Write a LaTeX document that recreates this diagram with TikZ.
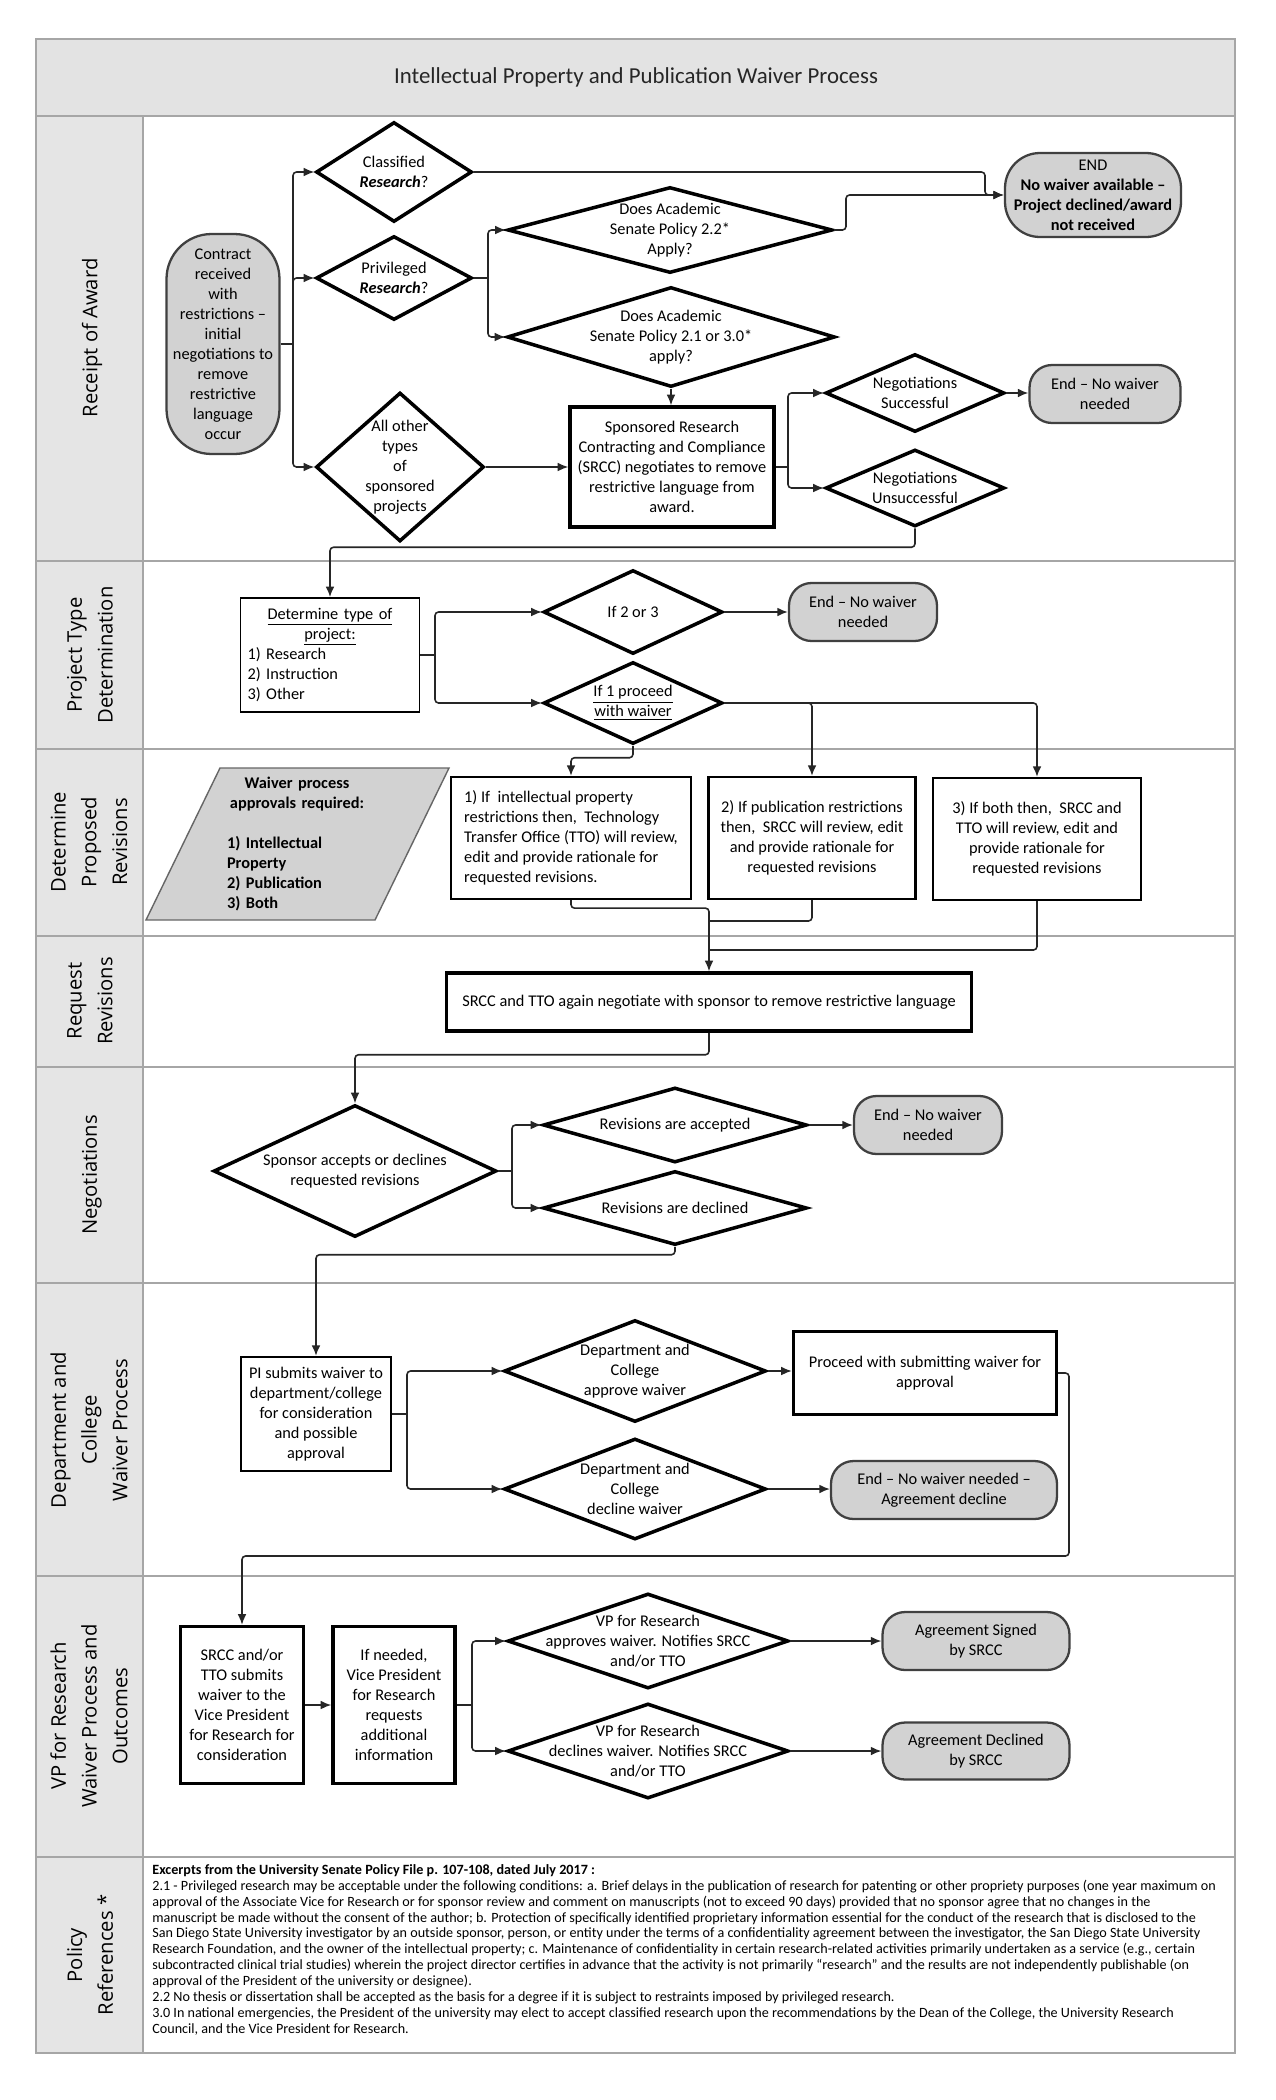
\documentclass[tikz,border=0pt]{standalone}
\usepackage{fontspec}
\setmainfont{Carlito}
\newfontfamily\hdrfont{Open Sans}
\usetikzlibrary{shapes.geometric,arrows.meta,calc}
\begin{document}
\begin{tikzpicture}[x=0.02cm,y=-0.02cm,
  every node/.style={font=\fontsize{9.3}{11.4}\selectfont},
  txt/.style={align=center, inner sep=0pt},
  dia/.style={shape=diamond, draw=black, line width=2pt, inner sep=0pt},
  term/.style={draw=black!75, line width=1.3pt, fill=gray!35, align=center, inner sep=1pt, rounded corners=0.45cm},
  pbox/.style={draw=black, line width=1.6pt, align=center, inner sep=2pt},
  conn/.style={draw=black!85, line width=0.9pt, rounded corners=2pt, -{Latex[length=6pt,width=5pt]}},
  link/.style={draw=black!85, line width=0.9pt, rounded corners=2pt},
  lanehdr/.style={rotate=90, align=center, font=\hdrfont\fontsize{11.5}{17.5}\selectfont},
]
\useasboundingbox (0,0) rectangle (1275,2100);
\fill[white] (0,0) rectangle (1275,2100);
% frame
\fill[gray!22] (36,39) rectangle (1235,116);
\fill[gray!20] (36,116) rectangle (143,2053);
\foreach \yy in {116,561,749,936,1067,1283,1576,1857}
  \draw[gray!70, line width=0.8pt] (36,\yy) -- (1235,\yy);
\draw[gray!70, line width=0.8pt] (143,116) -- (143,2053);
\draw[gray!70, line width=0.8pt] (36,39) rectangle (1235,2053);
\node[font=\fontsize{13}{15}\selectfont, text=black!85] (title) at (636,77) {Intellectual Property and Publication Waiver Process};
% lane headers
\node[lanehdr] (h1) at (92,338) {Receipt of Award};
\node[lanehdr] (h2) at (90,655) {Project Type\\Determination};
\node[lanehdr] (h3) at (89,842) {Determine\\Proposed\\Revisions};
\node[lanehdr] (h4) at (90,1001) {Request\\Revisions};
\node[lanehdr] (h5) at (92,1175) {Negotiations};
\node[lanehdr] (h6) at (89,1430) {Department and\\College\\Waiver Process};
\node[lanehdr] (h7) at (89,1716) {VP for Research\\Waiver Process and\\Outcomes};
\node[lanehdr] (h8) at (90,1955) {Policy\\References *};

% ---------- Lane 1
\node[term, minimum width=2.26cm, minimum height=4.4cm, rounded corners=0.9cm] (start) at (223,344) {Contract\\received\\with\\restrictions --\\initial\\negotiations to\\remove\\restrictive\\language\\occur};
\node[dia, minimum width=3.12cm, minimum height=2cm] (cls) at (394,172) {};
\node[txt] (clsT) at (394,172) {Classified\\\textbf{\textit{Research}}?};
\node[dia, minimum width=3.12cm, minimum height=1.68cm] (priv) at (394,278) {};
\node[txt] (privT) at (394,278) {Privileged\\\textbf{\textit{Research}}?};
\node[dia, minimum width=3.36cm, minimum height=2.98cm] (other) at (400,467) {};
\node[txt] (otherT) at (400,467) {All other\\types\\of\\sponsored\\projects};
\node[dia, minimum width=6.5cm, minimum height=1.72cm] (p22) at (670,230) {};
\node[txt] (p22T) at (670,230) {Does Academic\\Senate Policy 2.2*\\Apply?};
\node[dia, minimum width=6.56cm, minimum height=2cm] (p21) at (671,337) {};
\node[txt] (p21T) at (671,337) {Does Academic\\Senate Policy 2.1 or 3.0*\\apply?};
\node[pbox, line width=2pt, minimum width=4.08cm, minimum height=2.4cm] (srcc) at (672,467) {Sponsored Research\\Contracting and Compliance\\(SRCC) negotiates to remove\\restrictive language from\\award.};
\node[dia, minimum width=3.58cm, minimum height=1.56cm] (negS) at (915,393) {};
\node[txt] (negST) at (915,393) {Negotiations\\Successful};
\node[dia, minimum width=3.58cm, minimum height=1.54cm] (negU) at (915,488) {};
\node[txt] (negUT) at (915,488) {Negotiations\\Unsuccessful};
\node[term, minimum width=3.02cm, minimum height=1.16cm] (endS) at (1105,394) {End -- No waiver\\needed};
\node[term, minimum width=3.52cm, minimum height=1.68cm, rounded corners=0.7cm] (endTop) at (1093,195) {END\\\textbf{No waiver available --}\\\textbf{Project declined/award}\\\textbf{not received}};

\coordinate (b1) at (293,344);
\draw[link] (start.east) -- (b1);
\draw[conn] (b1) |- (cls.west);
\draw[conn] (b1) |- (priv.west);
\draw[conn] (b1) |- (other.west);
\coordinate (b2) at (488,278);
\draw[link] (priv.east) -- (b2);
\draw[conn] (b2) |- (p22.west);
\draw[conn] (b2) |- (p21.west);
\draw[conn] (p21.south) -- (p21.south |- srcc.north);
\draw[conn] (other.east) -- (srcc.west);
\coordinate (b3) at (788,467);
\draw[link] (srcc.east) -- (b3);
\draw[conn] (b3) |- (negS.west);
\draw[conn] (b3) |- (negU.west);
\draw[conn] (negS.east) -- (negS.east -| endS.west);
\draw[conn] (cls.east) -- (985,172) |- (endTop.west);
\draw[conn] (p22.east) -- (846,230) |- (endTop.west);

% ---------- Lane 2
\node[draw=black, line width=1pt, minimum width=3.58cm, minimum height=2.28cm, text width=3.3cm, inner sep=0pt] (det) at (330,655) {\centering\underline{Determine type of}\\\underline{project:}\par\raggedright 1) Research\\2) Instruction\\3) Other\par};
\draw[conn] (negU.south) -- ++(0,19) -| (det.north);
\node[dia, minimum width=3.58cm, minimum height=1.68cm] (if23) at (633,612) {};
\node[txt] (if23T) at (633,612) {If 2 or 3};
\node[dia, minimum width=3.58cm, minimum height=1.64cm] (if1) at (633,703) {};
\node[txt] (if1T) at (633,703) {\underline{If 1 proceed}\\\underline{with waiver}};
\node[term, minimum width=2.96cm, minimum height=1.16cm] (end2) at (863,612) {End -- No waiver\\needed};
\coordinate (b4) at (435,655);
\draw[link] (det.east) -- (b4);
\draw[conn] (b4) |- (if23.west);
\draw[conn] (b4) |- (if1.west);
\draw[conn] (if23.east) -- (end2.west);

% ---------- Lane 3
\filldraw[fill=gray!35, draw=black!60, line width=0.8pt] (220,768) -- (449,768) -- (375,920) -- (146,920) -- cycle;
\node[inner sep=0pt, text width=2.8cm, font=\bfseries\fontsize{9.3}{11.4}\selectfont] (paraT) at (297,844) {\centering Waiver process\\approvals required:\par\vspace{11.4pt}\raggedright 1) Intellectual\\Property\\2) Publication\\3) Both\par};
\node[pbox, line width=1.3pt, minimum width=4.8cm, minimum height=2.44cm, align=left] (bx1) at (571,838) {1) If~ intellectual property\\restrictions then,~ Technology\\Transfer Office (TTO) will review,\\edit and provide rationale for\\requested revisions.};
\node[pbox, line width=1.3pt, minimum width=4.14cm, minimum height=2.44cm] (bx2) at (812,838) {2) If publication restrictions\\then,~ SRCC will review, edit\\and provide rationale for\\requested revisions};
\node[pbox, line width=1.3pt, minimum width=4.16cm, minimum height=2.44cm] (bx3) at (1037,839) {3) If both then,~ SRCC and\\TTO will review, edit and\\provide rationale for\\requested revisions};
\draw[conn] (if1.east) -| (bx2.north);
\draw[conn] (if1.east) -| (bx3.north);
\draw[conn] (if1.south) -- ++(0,12) -| (bx1.north);

% ---------- Lane 4
\node[pbox, line width=2pt, minimum width=10.5cm, minimum height=1.16cm] (req) at (709,1002) {SRCC and TTO again negotiate with sponsor to remove restrictive language};
\coordinate (j2) at (709,921);
\coordinate (j3) at (709,950);
\draw[conn] (bx1.south) -- ++(0,8) -| (req.north);
\draw[link] (bx2.south) |- (j2);
\draw[link] (bx3.south) |- (j3);

% ---------- Lane 5
\node[dia, minimum width=5.66cm, minimum height=2.64cm] (spons) at (355,1171) {};
\node[txt] (sponsT) at (355,1171) {Sponsor accepts or declines\\requested revisions};
\node[dia, minimum width=5.28cm, minimum height=1.5cm] (racc) at (675,1125) {};
\node[txt] (raccT) at (675,1125) {Revisions are accepted};
\node[dia, minimum width=5.28cm, minimum height=1.48cm] (rdec) at (675,1208) {};
\node[txt] (rdecT) at (675,1208) {Revisions are declined};
\node[term, minimum width=2.96cm, minimum height=1.16cm] (end5) at (928,1125) {End -- No waiver\\needed};
\draw[conn] (req.south) -- ++(0,22) -| (spons.north);
\coordinate (b5) at (512,1171);
\draw[link] (spons.east) -- (b5);
\draw[conn] (b5) |- (racc.west);
\draw[conn] (b5) |- (rdec.west);
\draw[conn] (racc.east) -- (end5.west);

% ---------- Lane 6
\node[pbox, line width=1.3pt, minimum width=3cm, minimum height=2.28cm] (pi) at (316,1414) {PI submits waiver to\\department/college\\for consideration\\and possible\\approval};
\draw[conn] (rdec.south) -- ++(0,8) -| (pi.north);
\node[dia, minimum width=5.24cm, minimum height=2.04cm] (app) at (635,1371) {};
\node[txt] (appT) at (635,1371) {Department and\\College\\approve waiver};
\node[dia, minimum width=5.24cm, minimum height=2.02cm] (dec) at (635,1489) {};
\node[txt] (decT) at (635,1489) {Department and\\College\\decline waiver};
\node[pbox, line width=2pt, minimum width=5.26cm, minimum height=1.66cm] (proc) at (925,1373) {Proceed with submitting waiver for\\approval};
\node[term, minimum width=4.52cm, minimum height=1.16cm] (end6) at (944,1490) {End -- No waiver needed --\\Agreement decline};
\coordinate (b6) at (407,1414);
\draw[link] (pi.east) -- (b6);
\draw[conn] (b6) |- (app.west);
\draw[conn] (b6) |- (dec.west);
\draw[conn] (app.east) -- (app.east -| proc.west);
\draw[conn] (dec.east) -- (dec.east -| end6.west);

% ---------- Lane 7
\node[pbox, line width=2pt, minimum width=2.46cm, minimum height=3.14cm] (sub) at (242,1705) {SRCC and/or\\TTO submits\\waiver to the\\Vice President\\for Research for\\consideration};
\node[pbox, line width=2pt, minimum width=2.44cm, minimum height=3.14cm] (ifn) at (394,1705) {If needed,\\Vice President\\for Research\\requests\\additional\\information};
\coordinate (k6) at (1069,1556);
\draw[conn] (proc.east) -| (k6) -| (sub.north);
\draw[conn] (sub.east) -- (ifn.west);
\node[dia, minimum width=5.62cm, minimum height=1.9cm] (vapp) at (648,1641) {};
\node[txt] (vappT) at (648,1641) {VP for Research\\approves waiver. Notifies SRCC\\and/or TTO};
\node[dia, minimum width=5.62cm, minimum height=1.9cm] (vdec) at (648,1751) {};
\node[txt] (vdecT) at (648,1751) {VP for Research\\declines waiver. Notifies SRCC\\and/or TTO};
\node[term, minimum width=3.74cm, minimum height=1.16cm] (sign) at (976,1641) {Agreement Signed\\by SRCC};
\node[term, minimum width=3.74cm, minimum height=1.14cm] (decl) at (976,1751) {Agreement Declined\\by SRCC};
\coordinate (b7) at (472,1705);
\draw[link] (ifn.east) -- (b7);
\draw[conn] (b7) |- (vapp.west);
\draw[conn] (b7) |- (vdec.west);
\draw[conn] (vapp.east) -- (sign.west);
\draw[conn] (vdec.east) -- (decl.west);

% ---------- Lane 8
\node[anchor=north west, inner sep=0pt, align=left, font=\fontsize{8.05}{9.05}\selectfont] (pol) at (152,1864) {\textbf{Excerpts from the University Senate Policy File p. 107-108, dated July 2017 :}\\
2.1 - Privileged research may be acceptable under the following conditions: a. Brief delays in the publication of research for patenting or other propriety purposes (one year maximum on\\
approval of the Associate Vice for Research or for sponsor review and comment on manuscripts (not to exceed 90 days) provided that no sponsor agree that no changes in the\\
manuscript be made without the consent of the author; b. Protection of specifically identified proprietary information essential for the conduct of the research that is disclosed to the\\
San Diego State University investigator by an outside sponsor, person, or entity under the terms of a confidentiality agreement between the investigator, the San Diego State University\\
Research Foundation, and the owner of the intellectual property; c. Maintenance of confidentiality in certain research-related activities primarily undertaken as a service (e.g., certain\\
subcontracted clinical trial studies) wherein the project director certifies in advance that the activity is not primarily “research” and the results are not independently publishable (on\\
approval of the President of the university or designee).\\
2.2 No thesis or dissertation shall be accepted as the basis for a degree if it is subject to restraints imposed by privileged research.\\
3.0 In national emergencies, the President of the university may elect to accept classified research upon the recommendations by the Dean of the College, the University Research\\
Council, and the Vice President for Research.};
\end{tikzpicture}
\end{document}
